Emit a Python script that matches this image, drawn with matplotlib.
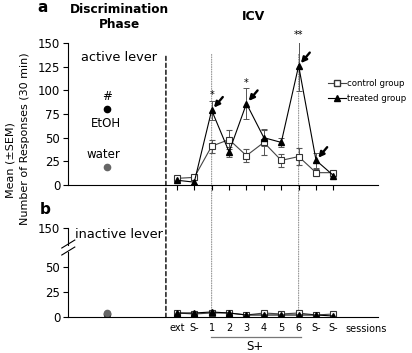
import numpy as np
import matplotlib
matplotlib.use("Agg")
import matplotlib.pyplot as plt
from matplotlib.patches import ConnectionPatch
from matplotlib.lines import Line2D

plt.rcParams['font.family'] = ['DejaVu Sans']

# sessions (ICV phase)
sessions = ['ext', 'S-', '1', '2', '3', '4', '5', '6', 'S-', 'S-']

# active lever
ctrl_active = [7, 8, 41, 48, 31, 45, 26, 30, 13, 13]
ctrl_active_err = [2, 3, 7, 10, 7, 13, 7, 9, 4, 2]
treat_active = [5, 3, 79, 35, 86, 50, 45, 126, 26, 10]
treat_active_err = [2, 2, 10, 5, 16, 9, 5, 27, 8, 2]
etoh_active = 80
water_active = 19

# inactive lever
ctrl_inactive = [4, 3, 4, 4, 2, 4, 3, 4, 2, 3]
treat_inactive = [4, 4, 5, 4, 2, 2, 2, 2, 2, 1]
inactive_err = [1, 1, 1, 1, 1, 1, 1, 1, 1, 1]
etoh_inactive = 3
water_inactive = 4

# significance marks / arrows
stars = {2: '*', 4: '*', 7: '**'}
arrow_idx = [2, 4, 7, 8]

x = np.arange(len(sessions))
x_disc = -4
x_div = -0.63
xlim = (-6.26, 11.55)

fig = plt.figure(figsize=(4.12, 3.53), dpi=100)
ax1 = fig.add_axes([0.165, 0.476, 0.752, 0.402])
ax2 = fig.add_axes([0.165, 0.102, 0.752, 0.252])

for ax in (ax1, ax2):
    ax.set_xlim(*xlim)
    ax.set_facecolor('none')
    ax.spines['top'].set_visible(False)
    ax.spines['right'].set_visible(False)
    ax.spines['left'].set_linewidth(0.8)
    ax.spines['bottom'].set_linewidth(0.8)
    ax.tick_params(axis='y', labelsize=8.5, length=3.5, width=0.8, pad=2)

ebkw = dict(lw=0.8, elinewidth=0.7, capsize=2.5, ecolor='#555555', capthick=0.7)

# ---- panel a ----
ax1.set_ylim(0, 150)
ax1.set_yticks([0, 25, 50, 75, 100, 125, 150])
ax1.set_xticks(x)
ax1.set_xticklabels([])
ax1.tick_params(axis='x', length=3.5, width=0.8)

ax1.errorbar(x, ctrl_active, yerr=ctrl_active_err, fmt='-s', color='#444444',
             mfc='white', mec='#333333', ms=4.8, mew=0.8, **ebkw)
ax1.errorbar(x, treat_active, yerr=treat_active_err, fmt='-^', color='black',
             mfc='black', mec='black', ms=5, **ebkw)

for i, s in stars.items():
    ax1.annotate(s, (x[i], treat_active[i] + treat_active_err[i]), xytext=(0, 0.5),
                 textcoords='offset points', ha='center', va='bottom', fontsize=7,
                 annotation_clip=False)
for i in arrow_idx:
    ax1.annotate('', xy=(x[i], treat_active[i]), xytext=(8, 9.5), textcoords='offset points',
                 arrowprops=dict(arrowstyle='-|>', color='black', lw=1.7,
                                 mutation_scale=8, shrinkA=0, shrinkB=2.5))

ax1.plot([x_disc], [etoh_active], 'o', color='black', ms=4.5)
ax1.plot([x_disc], [water_active], 'o', color='#666666', ms=4.5)
ax1.text(x_disc, etoh_active + 7, '#', ha='center', va='bottom', fontsize=8.5)
ax1.text(x_disc - 0.1, etoh_active - 8, 'EtOH', ha='center', va='top', fontsize=8.5)
ax1.text(x_disc - 0.2, water_active + 6, 'water', ha='center', va='bottom', fontsize=8.5)
ax1.text(-3.33, 135, 'active lever', ha='center', va='center', fontsize=9.3)

handles = [Line2D([], [], color='#444444', lw=0.8, marker='s', mfc='white', mec='#333333', ms=4.3),
           Line2D([], [], color='black', lw=0.8, marker='^', mfc='black', ms=4.8)]
ax1.legend(handles, ['control group', 'treated group'], loc='upper left',
           bbox_to_anchor=(0.84, 0.75), frameon=False, fontsize=6.2,
           handlelength=2.1, handletextpad=0.1, labelspacing=0.75, borderpad=0,
           borderaxespad=0)

# ---- panel b (broken axis: 150 drawn at 89) ----
ax2.set_ylim(0, 89)
ax2.set_yticks([0, 25, 50, 89], labels=['0', '25', '50', '150'])
ax2.set_xticks(x, labels=sessions, fontsize=7)
ax2.tick_params(axis='x', length=0, pad=4)
ax2.spines['left'].set_visible(False)
yt = ax2.get_yaxis_transform()
ax2.plot([0, 0], [0, 65], color='black', lw=0.8, transform=yt, clip_on=False)
ax2.plot([0, 0], [72, 89], color='black', lw=0.8, transform=yt, clip_on=False)
for yb in (63, 70):
    ax2.plot([-0.02, 0.022], [yb - 1, yb + 7], color='black', lw=0.8,
             transform=yt, clip_on=False)

ax2.errorbar(x, ctrl_inactive, yerr=inactive_err, fmt='-s', color='#444444',
             mfc='white', mec='#333333', ms=4.8, mew=0.8, **ebkw)
ax2.errorbar(x, treat_inactive, yerr=inactive_err, fmt='-^', color='black',
             mfc='black', mec='black', ms=5, **ebkw)
ax2.plot([x_disc], [etoh_inactive], 'o', color='black', ms=4.5)
ax2.plot([x_disc], [water_inactive], 'o', color='#666666', ms=4.5)
ax2.text(-3.33, 83, 'inactive lever', ha='center', va='center', fontsize=9.3)

xt = ax2.get_xaxis_transform()
ax2.text(10.9, -0.135, 'sessions', transform=xt, ha='center', va='center', fontsize=7)
ax2.plot([x[2] - 0.05, x[7] + 0.15], [-0.225, -0.225], color='#777777', lw=0.9,
         transform=xt, clip_on=False)
ax2.text((x[2] + x[7]) / 2, -0.335, 'S+', transform=xt, ha='center', va='center', fontsize=8.5)

# vertical guides across both panels
fig.add_artist(ConnectionPatch((x_div, 136), (x_div, 0), 'data', 'data', axesA=ax1, axesB=ax2,
                               color='black', lw=1.0, linestyle=(0, (3, 2))))
for i in (2, 7):
    fig.add_artist(ConnectionPatch((x[i], 138), (x[i], 0), 'data', 'data', axesA=ax1, axesB=ax2,
                                   color='#888888', lw=0.7, linestyle=(0, (1, 1.5)), zorder=-1))

# titles and labels
fig.text(43 / 412, 1 - 7 / 353, 'a', fontsize=11, fontweight='bold', ha='center', va='center')
fig.text(45 / 412, 1 - 209 / 353, 'b', fontsize=11, fontweight='bold', ha='center', va='center')
fig.text(119 / 412, 1 - 17 / 353, 'Discrimination\nPhase', fontsize=8.7, fontweight='bold',
         ha='center', va='center', linespacing=1.25)
fig.text(254 / 412, 1 - 17 / 353, 'ICV', fontsize=9, fontweight='bold', ha='center', va='center')
fig.text(11 / 412, 1 - 160 / 353, 'Mean (±SEM)', rotation=90,
         fontsize=8, ha='center', va='center')
fig.text(25 / 412, 1 - 139 / 353, 'Number of Responses (30 min)', rotation=90,
         fontsize=8, ha='center', va='center')

fig.savefig('out.png', dpi=100)
